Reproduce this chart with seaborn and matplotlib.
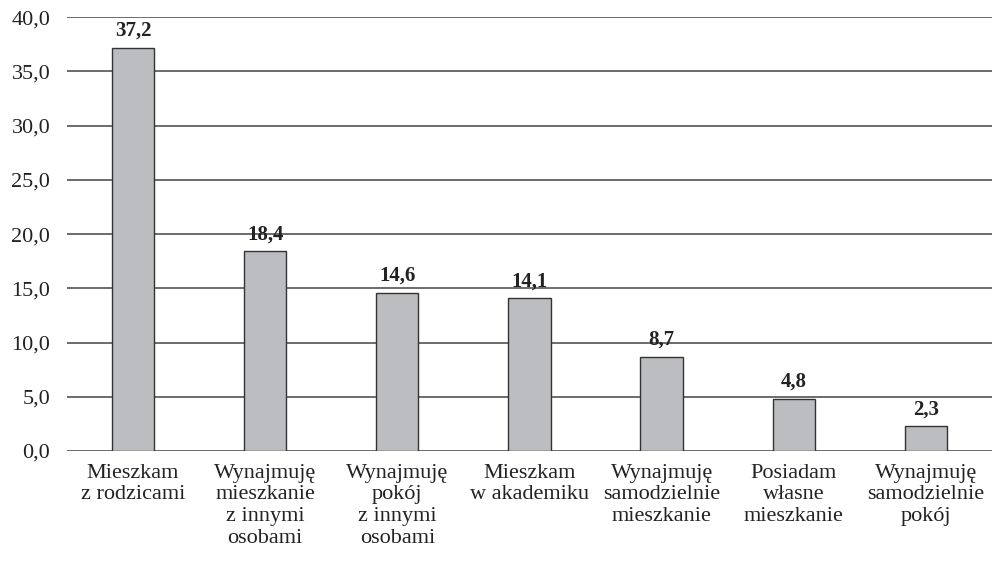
import matplotlib
matplotlib.use("Agg")
import matplotlib.pyplot as plt
import seaborn as sns
import pandas as pd

categories = ["Mieszkam\nz rodzicami", "Wynajmuję\nmieszkanie\nz innymi\nosobami",
              "Wynajmuję\npokój\nz innymi\nosobami", "Mieszkam\nw akademiku",
              "Wynajmuję\nsamodzielnie\nmieszkanie", "Posiadam\nwłasne\nmieszkanie",
              "Wynajmuję\nsamodzielnie\npokój"]
values = [37.2, 18.4, 14.6, 14.1, 8.7, 4.8, 2.3]
yticks = [0, 5, 10, 15, 20, 25, 30, 35, 40]

sns.set_theme(style="white")
plt.rcParams['font.family'] = 'serif'
plt.rcParams['font.serif'] = ['Liberation Serif', 'DejaVu Serif']

df = pd.DataFrame({"cat": categories, "val": values})
fig = plt.figure(figsize=(9.92, 5.73), dpi=100)
ax = fig.add_axes([0.0675, 0.2129, 0.9325, 0.7571])
sns.barplot(data=df, x="cat", y="val", color="#bcbdc1", width=0.32,
            edgecolor="#333333", linewidth=1.0, saturation=1, ax=ax, zorder=3)
ax.set_ylim(0, 40)
ax.set_yticks(yticks)
ax.set_yticklabels([f"{t:.1f}".replace(".", ",") for t in yticks])
ax.set_xlim(-0.5, 6.5)
for s in ax.spines.values():
    s.set_visible(False)
ax.grid(axis="y", color="#444444", linewidth=1.1, zorder=0)
ax.tick_params(axis="both", length=0, labelsize=16, colors="#222222")
ax.tick_params(axis="y", pad=12)
ax.tick_params(axis="x", pad=9)
for lbl in ax.get_xticklabels():
    lbl.set_linespacing(1.2)
ax.set_xlabel("")
ax.set_ylabel("")
for i, v in enumerate(values):
    ax.annotate(f"{v:.1f}".replace(".", ","), (i, v), xytext=(0, 5),
                textcoords="offset points", ha="center", va="bottom",
                fontsize=15, fontweight="bold", color="#222222")
fig.savefig("out.png", dpi=100)
